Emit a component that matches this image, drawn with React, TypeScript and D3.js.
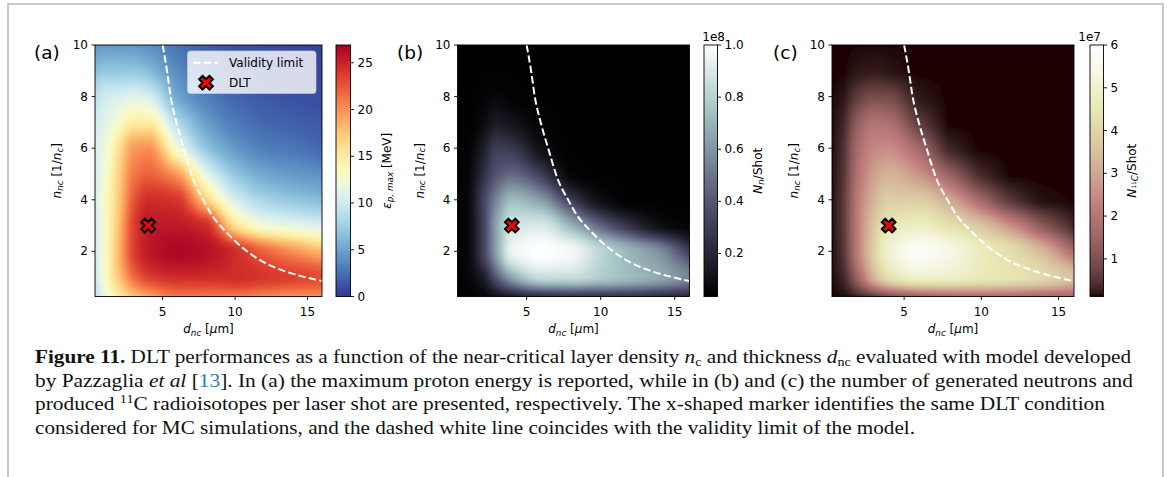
import React, { useMemo } from 'react';
import * as d3 from 'd3';

// ---------- data ----------
const dNodes = [0.33, 1, 2, 3, 4, 6, 8, 10, 12, 14, 16];
const nNodes = [0.25, 1, 2, 3, 4, 5, 6, 7, 8, 9, 10];

// (a) max proton energy [MeV]; rows = nNodes (bottom→top), cols = dNodes
const energyRows = [
  [9, 11.5, 15, 17.5, 19, 21, 21, 21, 20.5, 20, 20],
  [9.5, 13, 17.5, 21.5, 23.5, 24.5, 24.5, 24.5, 24, 23.5, 23],
  [10, 13, 18.5, 23.5, 25.5, 26.5, 26, 24.5, 22, 20, 18],
  [10, 13, 18, 23.5, 25.5, 25.5, 24.5, 16, 12.5, 11.5, 10.8],
  [10.5, 13, 17.5, 22.5, 24.5, 24, 17, 10.5, 8, 7, 6.3],
  [10.5, 12.5, 17, 21, 22, 19.5, 11.5, 7, 5.2, 4.5, 4],
  [10.5, 12, 16, 19.5, 20, 12.5, 7, 4.5, 3.2, 2.8, 2.2],
  [10, 11, 13, 15, 15, 8.5, 4.8, 3, 2.2, 1.8, 1.5],
  [9, 10, 10.5, 11, 10.5, 5.2, 3.2, 2.1, 1.5, 1.2, 1],
  [6.5, 7, 7, 7, 6.3, 3.8, 2.4, 1.6, 1.1, 0.9, 0.8],
  [4, 4.3, 4.3, 4.2, 3.8, 2.6, 1.7, 1.2, 0.9, 0.7, 0.6],
];

// (b) neutrons per shot [1e8]
const neutronRows = [
  [0.04, 0.05, 0.05, 0.1, 0.15, 0.22, 0.25, 0.25, 0.25, 0.22, 0.2],
  [0.04, 0.06, 0.15, 0.42, 0.65, 0.85, 0.85, 0.78, 0.72, 0.66, 0.55],
  [0.04, 0.07, 0.3, 0.66, 0.95, 1.0, 0.97, 0.82, 0.7, 0.58, 0.3],
  [0.04, 0.07, 0.3, 0.66, 0.88, 0.9, 0.7, 0.45, 0.25, 0.1, 0.05],
  [0.04, 0.07, 0.3, 0.56, 0.72, 0.62, 0.3, 0.1, 0.04, 0.04, 0.04],
  [0.04, 0.06, 0.22, 0.4, 0.46, 0.3, 0.06, 0.04, 0.04, 0.04, 0.04],
  [0.04, 0.05, 0.15, 0.3, 0.28, 0.1, 0.04, 0.04, 0.04, 0.04, 0.04],
  [0.04, 0.04, 0.08, 0.15, 0.12, 0.05, 0.04, 0.04, 0.04, 0.04, 0.04],
  [0.04, 0.04, 0.05, 0.07, 0.05, 0.04, 0.04, 0.04, 0.04, 0.04, 0.04],
  [0.035, 0.035, 0.04, 0.04, 0.04, 0.035, 0.035, 0.035, 0.035, 0.035, 0.035],
  [0.035, 0.035, 0.035, 0.035, 0.035, 0.035, 0.035, 0.035, 0.035, 0.035, 0.035],
];

// (c) 11C per shot [1e7]
const carbonRows = [
  [0.12, 0.12, 0.25, 0.5, 0.9, 1.4, 1.6, 1.7, 1.7, 1.6, 1.6],
  [0.12, 0.3, 1.5, 3.2, 4.3, 5.0, 4.9, 4.6, 4.4, 4.1, 3.5],
  [0.12, 0.45, 2.2, 3.8, 5.0, 5.8, 5.4, 4.7, 4.2, 3.3, 1.7],
  [0.12, 0.5, 2.2, 3.6, 4.5, 4.8, 4.3, 3.6, 2.5, 1.2, 0.3],
  [0.12, 0.5, 2.1, 3.2, 3.8, 3.8, 3.0, 1.6, 0.5, 0.15, 0.12],
  [0.12, 0.45, 1.9, 2.8, 3.2, 2.6, 1.4, 0.35, 0.12, 0.12, 0.12],
  [0.12, 0.4, 1.7, 2.4, 2.5, 1.6, 0.3, 0.12, 0.12, 0.12, 0.12],
  [0.12, 0.3, 1.3, 1.9, 1.8, 0.6, 0.12, 0.12, 0.12, 0.12, 0.12],
  [0.12, 0.18, 0.6, 0.9, 0.85, 0.2, 0.12, 0.12, 0.12, 0.12, 0.12],
  [0.12, 0.12, 0.18, 0.22, 0.18, 0.12, 0.12, 0.12, 0.12, 0.12, 0.12],
  [0.12, 0.12, 0.12, 0.12, 0.12, 0.12, 0.12, 0.12, 0.12, 0.12, 0.12],
];

const validityD = [5.0, 5.3, 5.55, 5.95, 6.45, 7.1, 7.8, 8.4, 9.3, 10.4, 11.6, 13.1, 14.5, 16];
const validityN = [10, 9, 8, 7, 6, 4.8, 4.0, 3.4, 2.8, 2.2, 1.7, 1.3, 1.05, 0.85];
const dltD = 4;
const dltN = 3;

const xTicks = [5, 10, 15];
const yTicks = [2, 4, 6, 8, 10];
const energyTicks = [0, 5, 10, 15, 20, 25];
const neutronTicks = [0.2, 0.4, 0.6, 0.8, 1.0];
const carbonTicks = [1, 2, 3, 4, 5, 6];
const energyRange = [0, 26.9];
const neutronRange = [0.035, 1.0];
const carbonRange = [0.12, 6.0];
const dDomain = [0.33, 16];
const nDomain = [0.25, 10];

// ---------- helpers ----------
function pchip(xs: number[], ys: number[]) {
  const n = xs.length;
  const h: number[] = [], d: number[] = [];
  for (let k = 0; k < n - 1; k++) { h[k] = xs[k + 1] - xs[k]; d[k] = (ys[k + 1] - ys[k]) / h[k]; }
  const m = new Array(n).fill(0);
  m[0] = d[0]; m[n - 1] = d[n - 2];
  for (let k = 1; k < n - 1; k++) {
    if (d[k - 1] * d[k] <= 0) m[k] = 0;
    else {
      const w1 = 2 * h[k] + h[k - 1], w2 = h[k] + 2 * h[k - 1];
      m[k] = (w1 + w2) / (w1 / d[k - 1] + w2 / d[k]);
    }
  }
  return (x: number) => {
    let k = 0;
    while (k < n - 2 && x > xs[k + 1]) k++;
    const t = Math.max(0, Math.min(1, (x - xs[k]) / h[k]));
    const t2 = t * t, t3 = t2 * t;
    return (2 * t3 - 3 * t2 + 1) * ys[k] + (t3 - 2 * t2 + t) * h[k] * m[k] +
      (-2 * t3 + 3 * t2) * ys[k + 1] + (t3 - t2) * h[k] * m[k + 1];
  };
}

function piecewise(pts: number[][]) {
  return (t: number) => {
    for (let i = 0; i < pts.length - 1; i++) {
      const [a, va] = pts[i], [b, vb] = pts[i + 1];
      if (t <= b) return va + (vb - va) * (t - a) / (b - a);
    }
    return pts[pts.length - 1][1];
  };
}
const clamp = (v: number) => Math.max(0, Math.min(1, v));

const boneR = piecewise([[0, 0], [0.746032, 0.652778], [1, 1]]);
const boneG = piecewise([[0, 0], [0.365079, 0.319444], [0.746032, 0.777778], [1, 1]]);
const boneB = piecewise([[0, 0], [0.365079, 0.444444], [1, 1]]);
const bone = (t: number) => [boneR(t), boneG(t), boneB(t)].map((v) => Math.round(v * 255));
const pink = (t: number) => {
  const g = t;
  const s = t * 63 + 1;
  const hr = Math.min(1, s / 24), hg = clamp((s - 24) / 24), hb = clamp((s - 48) / 16);
  return [hr, hg, hb].map((hv) => Math.round(Math.sqrt((2 * g + hv) / 3) * 255));
};
const rdylbuR = (t: number) => {
  const c = d3.rgb(d3.interpolateRdYlBu(1 - t));
  return [c.r, c.g, c.b];
};

function makeLut(fn: (t: number) => number[]) {
  const lut: number[][] = [];
  for (let i = 0; i < 512; i++) lut.push(fn(i / 511));
  return lut;
}

function renderHeat(rows: number[][], w: number, h: number, range: number[], lut: number[][]) {
  const canvas = document.createElement('canvas');
  canvas.width = w; canvas.height = h;
  const ctx = canvas.getContext('2d')!;
  const img = ctx.createImageData(w, h);
  const xs = d3.scaleLinear().domain(dDomain).range([0, w]);
  const ys = d3.scaleLinear().domain(nDomain).range([h, 0]);
  const rowFns = rows.map((r) => pchip(dNodes, r));
  for (let i = 0; i < w; i++) {
    const x = xs.invert(i + 0.5);
    const col = rowFns.map((f) => f(x));
    const cf = pchip(nNodes, col);
    for (let j = 0; j < h; j++) {
      const y = ys.invert(j + 0.5);
      const v = cf(y);
      const t = clamp((v - range[0]) / (range[1] - range[0]));
      const c = lut[Math.round(t * 511)];
      const p = (j * w + i) * 4;
      img.data[p] = c[0]; img.data[p + 1] = c[1]; img.data[p + 2] = c[2]; img.data[p + 3] = 255;
    }
  }
  ctx.putImageData(img, 0, 0);
  return canvas.toDataURL();
}

const Y0 = 45, Y1 = 296.5;
const FONT = 'DejaVu Sans, sans-serif';
const TICK_FS = 12;
const SUB_FS = 8.8;

const xMarker = d3.symbol().type(d3.symbolCross).size(118)();

function NLabel() {
  return (
    <>
      <tspan fontStyle="italic">n</tspan>
      <tspan fontStyle="italic" fontSize={SUB_FS} dy={2.5}>nc</tspan>
      <tspan dy={-2.5}>{' [1/'}</tspan>
      <tspan fontStyle="italic">n</tspan>
      <tspan fontStyle="italic" fontSize={SUB_FS} dy={2.5}>c</tspan>
      <tspan dy={-2.5}>]</tspan>
    </>
  );
}

function DLabel() {
  return (
    <>
      <tspan fontStyle="italic">d</tspan>
      <tspan fontStyle="italic" fontSize={SUB_FS} dy={2.5}>nc</tspan>
      <tspan dy={-2.5}>{' ['}</tspan>
      <tspan fontStyle="italic">μ</tspan>
      <tspan>m]</tspan>
    </>
  );
}

function CbLabelA() {
  return (
    <>
      <tspan fontStyle="italic">ε</tspan>
      <tspan fontStyle="italic" fontSize={SUB_FS} dy={2.5}>p, max</tspan>
      <tspan dy={-2.5}>{' [MeV]'}</tspan>
    </>
  );
}
function CbLabelB() {
  return (
    <>
      <tspan fontStyle="italic">N</tspan>
      <tspan fontStyle="italic" fontSize={SUB_FS} dy={2.5}>n</tspan>
      <tspan dy={-2.5}>/Shot</tspan>
    </>
  );
}
function CbLabelC() {
  return (
    <>
      <tspan fontStyle="italic">N</tspan>
      <tspan fontSize={6} dy={0.5}>11</tspan>
      <tspan fontStyle="italic" fontSize={SUB_FS} dy={2}>C</tspan>
      <tspan dy={-2.5}>/Shot</tspan>
    </>
  );
}

type PanelCfg = {
  id: string; x0: number; x1: number; cb0: number; cb1: number;
  rows: number[][]; range: number[]; ticks: number[]; fmt: (v: number) => string;
  cmap: (t: number) => number[]; tag: string; tagX: number; cbLabelX: number;
  CbLabel: () => JSX.Element; offset?: string; offsetX?: number; legend?: boolean;
};

function Panel({ cfg }: { cfg: PanelCfg }) {
  const w = Math.round(cfg.x1 - cfg.x0);
  const h = Math.round(Y1 - Y0);
  const lut = useMemo(() => makeLut(cfg.cmap), [cfg]);
  const url = useMemo(() => renderHeat(cfg.rows, w, h, cfg.range, lut), [cfg, w, h, lut]);
  const x = d3.scaleLinear().domain(dDomain).range([cfg.x0, cfg.x1]);
  const y = d3.scaleLinear().domain(nDomain).range([Y1, Y0]);
  const cb = d3.scaleLinear().domain(cfg.range).range([Y1, Y0]);
  const line = d3.line<number>().x((_, i) => x(validityD[i])).y((_, i) => y(validityN[i])).curve(d3.curveMonotoneX);
  const gradStops = d3.range(0, 65).map((i) => {
    const t = i / 64;
    const c = cfg.cmap(t);
    return <stop key={i} offset={`${t * 100}%`} stopColor={`rgb(${c[0]},${c[1]},${c[2]})`} />;
  });
  const clipId = `clip-${cfg.id}`;
  const gradId = `grad-${cfg.id}`;
  const CbLabel = cfg.CbLabel;
  const cbMid = (Y0 + Y1) / 2;
  return (
    <g fontFamily={FONT} fill="#000">
      <defs>
        <clipPath id={clipId}><rect x={cfg.x0} y={Y0} width={cfg.x1 - cfg.x0} height={Y1 - Y0} /></clipPath>
        <linearGradient id={gradId} x1="0" y1="1" x2="0" y2="0">{gradStops}</linearGradient>
      </defs>
      <image href={url} x={cfg.x0} y={Y0} width={cfg.x1 - cfg.x0} height={Y1 - Y0} preserveAspectRatio="none" />
      <g clipPath={`url(#${clipId})`}>
        <path d={line(validityD) || ''} fill="none" stroke="#fff" strokeWidth={2} strokeDasharray="7.4 3.2" />
      </g>
      <path d={xMarker} transform={`translate(${x(dltD)},${y(dltN)}) rotate(45)`} fill="#ff0000" stroke="#000" strokeWidth={2} strokeLinejoin="miter" />
      <rect x={cfg.x0} y={Y0} width={cfg.x1 - cfg.x0} height={Y1 - Y0} fill="none" stroke="#000" strokeWidth={0.9} />
      {xTicks.map((t) => (
        <g key={`x${t}`}>
          <line x1={x(t)} x2={x(t)} y1={Y1} y2={Y1 + 3.5} stroke="#000" strokeWidth={0.9} />
          <text x={x(t)} y={316} fontSize={TICK_FS} textAnchor="middle">{t}</text>
        </g>
      ))}
      {yTicks.map((t) => (
        <g key={`y${t}`}>
          <line x1={cfg.x0 - 3.5} x2={cfg.x0} y1={y(t)} y2={y(t)} stroke="#000" strokeWidth={0.9} />
          <text x={cfg.x0 - 7} y={y(t)} fontSize={TICK_FS} textAnchor="end" dominantBaseline="central">{t}</text>
        </g>
      ))}
      <text x={(cfg.x0 + cfg.x1) / 2} y={333} fontSize={TICK_FS} textAnchor="middle"><DLabel /></text>
      <text transform={`translate(${cfg.x0 - 38},${(Y0 + Y1) / 2}) rotate(-90)`} fontSize={TICK_FS} textAnchor="middle" dominantBaseline="central"><NLabel /></text>
      <text x={cfg.tagX} y={59} fontSize={18.5}>{cfg.tag}</text>
      <rect x={cfg.cb0} y={Y0} width={cfg.cb1 - cfg.cb0} height={Y1 - Y0} fill={`url(#${gradId})`} stroke="#000" strokeWidth={0.9} />
      {cfg.ticks.map((t) => (
        <g key={`c${t}`}>
          <line x1={cfg.cb1} x2={cfg.cb1 + 3.5} y1={cb(t)} y2={cb(t)} stroke="#000" strokeWidth={0.9} />
          <text x={cfg.cb1 + 7} y={cb(t)} fontSize={TICK_FS} dominantBaseline="central">{cfg.fmt(t)}</text>
        </g>
      ))}
      <text transform={`translate(${cfg.cbLabelX},${cbMid}) rotate(-90)`} fontSize={TICK_FS} textAnchor="middle" dominantBaseline="central"><CbLabel /></text>
      {cfg.offset && <text x={cfg.offsetX} y={41} fontSize={TICK_FS} textAnchor="end">{cfg.offset}</text>}
      {cfg.legend && (
        <g>
          <rect x={187.5} y={51} width={128.5} height={42.5} rx={3} fill="#fff" fillOpacity={0.8} stroke="#ccc" strokeOpacity={0.8} strokeWidth={0.9} />
          <line x1={193} x2={218} y1={62.7} y2={62.7} stroke="#fff" strokeWidth={2} strokeDasharray="7.4 3.2" />
          <text x={229} y={62.7} fontSize={TICK_FS} dominantBaseline="central">Validity limit</text>
          <path d={xMarker} transform={`translate(206,82.7) rotate(45)`} fill="#ff0000" stroke="#000" strokeWidth={2} />
          <text x={229} y={82.7} fontSize={TICK_FS} dominantBaseline="central">DLT</text>
        </g>
      )}
    </g>
  );
}

const panels: PanelCfg[] = [
  { id: 'a', x0: 95, x1: 322, cb0: 336, cb1: 350.5, rows: energyRows, range: energyRange, ticks: energyTicks,
    fmt: d3.format('d'), cmap: rdylbuR, tag: '(a)', tagX: 34, cbLabelX: 387, CbLabel: CbLabelA, legend: true },
  { id: 'b', x0: 457.5, x1: 689.5, cb0: 704, cb1: 717.5, rows: neutronRows, range: neutronRange, ticks: neutronTicks,
    fmt: d3.format('.1f'), cmap: bone, tag: '(b)', tagX: 397, cbLabelX: 758, CbLabel: CbLabelB, offset: '1e8', offsetX: 725 },
  { id: 'c', x0: 832, x1: 1074, cb0: 1090, cb1: 1103.5, rows: carbonRows, range: carbonRange, ticks: carbonTicks,
    fmt: d3.format('d'), cmap: pink, tag: '(c)', tagX: 773, cbLabelX: 1132, CbLabel: CbLabelC, offset: '1e7', offsetX: 1101 },
];

const CAP_FONT = '"Liberation Serif", "DejaVu Serif", serif';
const CAP_FS = 18;

export default function App() {
  return (
    <svg width={1167} height={477} style={{ position: 'absolute', left: 0, top: 0, background: '#fff' }}>
      <rect x={0} y={0} width={1167} height={477} fill="#fff" />
      <path d="M8,477 V4 H1163 V477" fill="none" stroke="#b8b8b8" strokeWidth={1.5} />
      {panels.map((p) => <Panel key={p.id} cfg={p} />)}
      <g fontFamily={CAP_FONT} fontSize={CAP_FS} fill="#111">
        <text x={35} y={363} textLength={1096} lengthAdjust="spacingAndGlyphs">
          <tspan fontWeight="bold">Figure 11.</tspan>
          <tspan>{' DLT performances as a function of the near-critical layer density '}</tspan>
          <tspan fontStyle="italic">n</tspan>
          <tspan fontSize={12} dy={3}>c</tspan>
          <tspan dy={-3}>{' and thickness '}</tspan>
          <tspan fontStyle="italic">d</tspan>
          <tspan fontSize={12} dy={3}>nc</tspan>
          <tspan dy={-3}>{' evaluated with model developed'}</tspan>
        </text>
        <text x={35} y={386.5} textLength={1098} lengthAdjust="spacingAndGlyphs">
          <tspan>{'by Pazzaglia '}</tspan>
          <tspan fontStyle="italic">et al</tspan>
          <tspan>{' ['}</tspan>
          <tspan fill="#2b7bb9">13</tspan>
          <tspan>{']. In (a) the maximum proton energy is reported, while in (b) and (c) the number of generated neutrons and'}</tspan>
        </text>
        <text x={35} y={410} textLength={1070} lengthAdjust="spacingAndGlyphs">
          <tspan>{'produced '}</tspan>
          <tspan fontSize={12} dy={-7}>11</tspan>
          <tspan dy={7}>{'C radioisotopes per laser shot are presented, respectively. The x-shaped marker identifies the same DLT condition'}</tspan>
        </text>
        <text x={35} y={433.5} textLength={880} lengthAdjust="spacingAndGlyphs">
          {'considered for MC simulations, and the dashed white line coincides with the validity limit of the model.'}
        </text>
      </g>
    </svg>
  );
}
